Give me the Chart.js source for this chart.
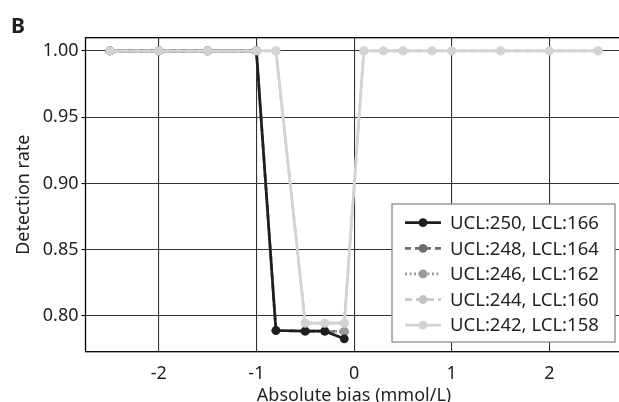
<!DOCTYPE html>
<html>
<head>
<meta charset="utf-8">
<script src="https://cdn.jsdelivr.net/npm/chart.js@4.4.1/dist/chart.umd.min.js"></script>
<style>
	html, body { margin: 0; padding: 0; background: #fff; overflow: hidden; }
	canvas { display: block; }
</style>
</head>
<body>
<canvas id="myChart" width="627" height="402"></canvas>
<script>
	// bias values (mmol/L)
	const biasAll = [-2.5, -2, -1.5, -1, -0.8, -0.5, -0.3, -0.1, 0.1, 0.3, 0.5, 0.8, 1, 1.5, 2, 2.5];
	const biasNeg = [-2.5, -2, -1.5, -1, -0.8, -0.5, -0.3, -0.1];

	const rate250 = [1, 1, 1, 1, 0.789, 0.7885, 0.7885, 0.7827];
	const rate248 = [1, 1, 1, 1, 0.789, 0.7885, 0.7885, 0.7882];
	const rate246 = [1, 1, 1, 1, 0.789, 0.7885, 0.7885, 0.7882];
	const rate244 = [1, 1, 1, 1, 1, 0.7945, 0.7945, 0.7945, 1, 1, 1, 1, 1, 1, 1, 1];
	const rate242 = [1, 1, 1, 1, 1, 0.7945, 0.7945, 0.7945, 1, 1, 1, 1, 1, 1, 1, 1];

	const seriesLabels = ['UCL:250, LCL:166', 'UCL:248, LCL:164', 'UCL:246, LCL:162', 'UCL:244, LCL:160', 'UCL:242, LCL:158'];
	const xTicks = [-2, -1, 0, 1, 2];
	const yTicks = [0.80, 0.85, 0.90, 0.95, 1.00];

	const FONT = "'Noto Sans', sans-serif";
	const TEXT = '#231f20';

	function pts(xs, ys){
		return xs.map((x, i) => ({x: x, y: ys[i]}));
	}

	function makeSet(label, xs, ys, color, dash, order){
		return {
			label: label,
			data: pts(xs, ys),
			borderColor: color,
			backgroundColor: color,
			borderWidth: 2.7,
			borderDash: dash,
			pointRadius: 4.4,
			pointBorderWidth: 0,
			pointBackgroundColor: color,
			tension: 0,
			order: order
		};
	}

	// lower order is painted later (on top)
	const dataChart = {
		datasets: [
			makeSet(seriesLabels[0], biasNeg, rate250, '#1e1e1e', [], 3),
			makeSet(seriesLabels[1], biasNeg, rate248, '#6e6e6e', [6, 4], 5),
			makeSet(seriesLabels[2], biasNeg, rate246, '#9a9a9a', [2, 2.5], 4),
			makeSet(seriesLabels[3], biasAll, rate244, '#c4c4c4', [7, 4], 2),
			makeSet(seriesLabels[4], biasAll, rate242, '#d3d3d3', [], 1)
		]
	};

	// frame, panel letter and legend box
	const frame = {
		id: 'frame',
		afterDatasetsDraw: (chart) => {
			const {ctx, chartArea} = chart;
			ctx.save();
			ctx.strokeStyle = '#000';
			ctx.lineWidth = 1.3;
			ctx.strokeRect(chartArea.left, chartArea.top, chartArea.right - chartArea.left, chartArea.bottom - chartArea.top);

			ctx.fillStyle = TEXT;
			ctx.font = "bold 21px " + FONT;
			ctx.textBaseline = 'alphabetic';
			ctx.textAlign = 'left';
			ctx.fillText('B', 11, 33);

			// legend
			const bx = 392, by = 204, bw = 223, bh = 138;
			ctx.fillStyle = '#fff';
			ctx.fillRect(bx, by, bw, bh);
			ctx.strokeStyle = '#8a8a8a';
			ctx.lineWidth = 1.3;
			ctx.strokeRect(bx, by, bw, bh);
			ctx.font = "18.5px " + FONT;
			ctx.textBaseline = 'middle';
			chart.data.datasets.forEach((ds, i) => {
				const cy = 222.7 + i * 25.6;
				ctx.strokeStyle = ds.borderColor;
				ctx.lineWidth = ds.borderWidth;
				ctx.setLineDash(ds.borderDash);
				ctx.beginPath();
				ctx.moveTo(405, cy);
				ctx.lineTo(441, cy);
				ctx.stroke();
				ctx.setLineDash([]);
				ctx.fillStyle = ds.borderColor;
				ctx.beginPath();
				ctx.arc(423, cy, 4.4, 0, Math.PI * 2);
				ctx.fill();
				ctx.fillStyle = TEXT;
				ctx.fillText(ds.label, 450, cy + 1);
			});
			ctx.restore();
		}
	};

	const config = {
		type: 'line',
		data: dataChart,
		options: {
			responsive: false,
			animation: false,
			layout: { padding: { top: 37.7, left: 0, right: 0, bottom: 0 } },
			plugins: {
				legend: { display: false },
				tooltip: { enabled: false }
			},
			scales: {
				x: {
					type: 'linear',
					min: -2.75,
					max: 2.75,
					afterBuildTicks: (scale) => { scale.ticks = xTicks.map(v => ({value: v})); },
					afterFit: (scale) => { scale.height = 50.3; },
					grid: { color: '#333', lineWidth: 1.1, drawTicks: false },
					border: { display: false },
					ticks: {
						color: TEXT,
						font: { family: FONT, size: 18 },
						padding: 11,
						callback: (v) => String(v)
					},
					title: {
						display: true,
						text: 'Absolute bias (mmol/L)',
						color: TEXT,
						font: { family: FONT, size: 18 },
						padding: { top: 0, bottom: -5 }
					}
				},
				y: {
					min: 0.773,
					max: 1.010,
					afterBuildTicks: (scale) => { scale.ticks = yTicks.map(v => ({value: v})); },
					afterFit: (scale) => { scale.width = 85.5; },
					grid: { color: '#333', lineWidth: 1.1, tickLength: 4, tickColor: '#000' },
					border: { display: false },
					ticks: {
						color: TEXT,
						font: { family: FONT, size: 18 },
						padding: 3,
						callback: (v) => v.toFixed(2)
					},
					title: {
						display: true,
						text: 'Detection rate',
						color: TEXT,
						font: { family: FONT, size: 18 },
						padding: { top: 13, bottom: 0 }
					}
				}
			}
		},
		plugins: [frame]
	};

	const myChart = new Chart(document.getElementById('myChart'), config);
</script>
</body>
</html>
